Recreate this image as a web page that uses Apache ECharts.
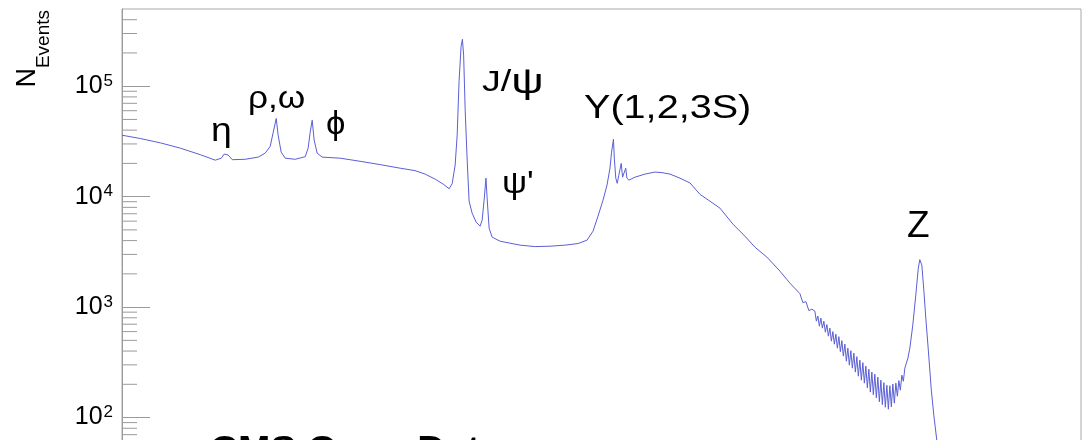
<!DOCTYPE html>
<html>
<head>
<meta charset="utf-8">
<script src="https://cdn.jsdelivr.net/npm/echarts@6/dist/echarts.min.js"></script>
<style>
  html, body { margin: 0; padding: 0; background: #fff; overflow: hidden; }
  #chart { width: 1085px; height: 560px; }
</style>
</head>
<body>
<div id="chart"></div>
<script>
// Dimuon invariant mass spectrum (GeV), events per bin
const massGeV = [
  0.25, 0.2862, 0.3319, 0.3846, 0.4457, 0.498, 0.5208, 0.5322, 0.548, 0.565,
  0.6218, 0.6843, 0.7209, 0.748, 0.7647, 0.7818, 0.7931, 0.811, 0.8356, 0.8997,
  0.9685, 0.990, 1.005, 1.020, 1.035, 1.058, 1.098, 1.255, 1.454, 1.686,
  1.954, 2.183, 2.351, 2.532, 2.685, 2.807, 2.871, 2.935, 2.979, 3.022,
  3.067, 3.097, 3.125, 3.161, 3.208, 3.254, 3.327, 3.428, 3.530, 3.583,
  3.636, 3.686, 3.718, 3.773, 3.858, 4.093, 4.407, 4.745, 5.302, 5.922,
  6.615, 7.28, 7.783, 8.134, 8.44, 8.757, 9.02, 9.22, 9.33, 9.46,
  9.52, 9.625, 9.73, 9.84, 10.02, 10.12, 10.36, 10.45, 10.61, 11.09,
  11.94, 12.86, 13.54, 14.37, 15.47, 16.66, 17.93, 19.31, 20.79, 22.88,
  25.0, 26.92, 29.42, 32.38, 34.86,
  37.54, 38.38, 39.25, 40.13, 41.02,
  41.94, 42.41, 42.88, 43.36, 43.84, 44.33, 44.82, 45.32, 45.83, 46.34,
  46.86, 47.38, 47.91, 48.44, 48.98, 49.53, 50.08, 50.64, 51.20, 51.77,
  52.35, 52.93, 53.52, 54.12, 54.72, 55.33, 55.95, 56.57, 57.20, 57.84,
  58.49, 59.14, 59.80, 60.47, 61.14, 61.82, 62.51, 63.21, 63.91, 64.62,
  65.34, 66.07, 66.81, 67.55, 68.31, 69.07, 69.84, 70.62, 71.41, 72.20,
  73.01, 73.82, 74.64, 75.47, 76.32, 77.17, 78.03, 78.90, 79.78, 80.67,
  81.57,
  83.43, 84.64, 86.5, 88.45, 90.1, 91.1, 92.48, 93.86, 95.24, 97.03,
  99.2, 101.05, 103.3, 109.6, 122.4, 140.0
];
const events = [
  36000, 33600, 30700, 27500, 24000, 21400, 22300, 24300, 23800, 21600,
  21800, 22800, 24800, 28600, 38300, 51000, 36000, 25300, 22300, 21800,
  23000, 27500, 38300, 49200, 32500, 24800, 22800, 22300, 20900, 19500,
  18100, 17200, 16000, 14400, 13000, 11800, 13100, 19300, 36000, 113000,
  230000, 266000, 191000, 60700, 21400, 9100, 7100, 5880, 5400, 6120,
  9300, 14700, 9680, 5190, 4300, 3950, 3790, 3640, 3530, 3560,
  3640, 3760, 4040, 4870, 6660, 9290, 12700, 18100, 25300, 33100,
  22300, 14700, 13200, 15600, 20000, 15000, 18100, 14700, 14100, 15000,
  16000, 16700, 16500, 16000, 14700, 13300, 10500, 9100, 7870, 5640,
  4390, 3490, 2835, 2120, 1650,
  1324, 1098, 1121, 929, 958,
  919, 746, 828, 672, 795, 645, 746, 593, 694, 546,
  645, 492, 600, 462, 569, 425, 540, 395, 497, 360,
  462, 324, 425, 298, 403, 280, 383, 258, 356, 237,
  331, 218, 314, 205, 292, 186, 274, 170, 258, 161,
  247, 151, 232, 139, 218, 131, 207, 124, 196, 119,
  194, 125, 201, 135, 205, 156, 216, 177, 242, 213,
  280,
  345, 426, 687, 1285, 2255, 2690, 2400, 1425, 794, 408,
  177, 105, 62.5, 35, 20, 12
];

// Axis ranges and tick values
const massRange = [0.25, 300];
const eventsRange = [10, 500000];
const minorTickValues = [
  20, 30, 40, 50, 60, 70, 80, 90,
  200, 300, 400, 500, 600, 700, 800, 900,
  2000, 3000, 4000, 5000, 6000, 7000, 8000, 9000,
  20000, 30000, 40000, 50000, 60000, 70000, 80000, 90000,
  200000, 300000, 400000
];

// Resonance names
const peakNames = ['η', 'ρ,ω', 'ϕ', 'J/ψ', 'ψ\'', 'Y(1,2,3S)', 'Z'];

const FONT = '"Liberation Sans", Arial, Helvetica, "DejaVu Sans", sans-serif';
const GREY = '#9a9a9a';
const LINE = '#5a5fd6';

function peakText(name, x, y, size, sx) {
  return {
    type: 'text', x: x, y: y, scaleX: sx, z: 10,
    style: {
      text: name, fontSize: size, fontFamily: FONT, fill: '#000',
      align: 'left', verticalAlign: 'middle',
      textAlign: 'left', textVerticalAlign: 'middle'
    }
  };
}

const chart = echarts.init(document.getElementById('chart'), null, { renderer: 'canvas' });

chart.setOption({
  animation: false,
  backgroundColor: '#fff',
  grid: {
    left: 122, top: 9, width: 959, height: 519,
    show: true, borderColor: '#a8a8a8', borderWidth: 1, backgroundColor: 'transparent'
  },
  xAxis: {
    type: 'log', min: massRange[0], max: massRange[1], logBase: 10,
    axisLine: { show: true, lineStyle: { color: GREY } },
    axisTick: { show: false }, axisLabel: { show: false }, splitLine: { show: false }
  },
  yAxis: {
    type: 'log', min: eventsRange[0], max: eventsRange[1], logBase: 10,
    axisLine: { show: true, lineStyle: { color: GREY, width: 1 } },
    axisTick: { show: true, inside: true, length: 28, lineStyle: { color: GREY, width: 1 } },
    splitLine: { show: false },
    axisLabel: {
      margin: 9,
      color: '#000',
      fontFamily: FONT,
      showMaxLabel: false,
      formatter: function (v) {
        const p = Math.log10(v);
        if (Math.abs(p - Math.round(p)) > 1e-6) return '';
        return '{b|10}{e|' + Math.round(p) + '}';
      },
      rich: {
        b: { fontSize: 25, lineHeight: 25, fontFamily: FONT, color: '#000', verticalAlign: 'bottom', padding: [9, 0, 0, 0] },
        e: { fontSize: 17, lineHeight: 17, fontFamily: FONT, color: '#000', verticalAlign: 'bottom', padding: [0, 0, 9, 1] }
      }
    }
  },
  series: [
    {
      name: 'minor ticks',
      type: 'custom',
      silent: true,
      clip: false,
      z: 5,
      data: minorTickValues.map(function (v) { return [massRange[0], v]; }),
      renderItem: function (params, api) {
        const p = api.coord([api.value(0), api.value(1)]);
        return {
          type: 'line',
          shape: { x1: p[0], y1: p[1], x2: p[0] + 15, y2: p[1] },
          style: { stroke: GREY, lineWidth: 1 }
        };
      }
    },
    {
      name: 'dimuon',
      type: 'line',
      showSymbol: false,
      symbol: 'none',
      clip: true,
      z: 4,
      lineStyle: { color: LINE, width: 1 },
      data: massGeV.map(function (m, i) { return [m, events[i]]; })
    }
  ],
  graphic: [
    // y axis title, rotated to read upwards
    {
      type: 'text', x: 40, y: 10, rotation: Math.PI / 2,
      style: {
        text: '{n|N}{s|Events}',
        align: 'right', verticalAlign: 'middle',
        textAlign: 'right', textVerticalAlign: 'middle',
        rich: {
          n: { fontSize: 27, lineHeight: 26, fontFamily: FONT, fill: '#000', color: '#000', verticalAlign: 'bottom', padding: [0, 0, 12, 0] },
          s: { fontSize: 19, lineHeight: 19, fontFamily: FONT, fill: '#000', color: '#000', verticalAlign: 'bottom' }
        }
      }
    },
    peakText(peakNames[0], 211, 132, 34, 1.1),
    peakText(peakNames[1], 248, 99, 32, 1.1),
    peakText(peakNames[2], 326, 125, 33, 1.05),
    {
      type: 'text', x: 482, y: 83, scaleX: 1.3, z: 10,
      style: {
        text: '{a|J/}{g|ψ}',
        align: 'left', verticalAlign: 'middle', textAlign: 'left', textVerticalAlign: 'middle',
        rich: {
          a: { fontSize: 29, lineHeight: 30, fontFamily: FONT, fill: '#000', color: '#000' },
          g: { fontSize: 35, lineHeight: 30, fontFamily: FONT, fill: '#000', color: '#000' }
        }
      }
    },
    peakText(peakNames[4], 502, 184, 32, 1.1),
    peakText(peakNames[5], 584, 109, 33, 1.2),
    peakText(peakNames[6], 907, 227, 37, 1.0),
    {
      type: 'text', x: 210, y: 452, scaleX: 1.08, z: 10,
      style: {
        text: 'CMS Open Data', fontSize: 36, fontWeight: 'bold', fontFamily: FONT, fill: '#000',
        align: 'left', verticalAlign: 'middle', textAlign: 'left', textVerticalAlign: 'middle'
      }
    }
  ]
});
</script>
</body>
</html>
